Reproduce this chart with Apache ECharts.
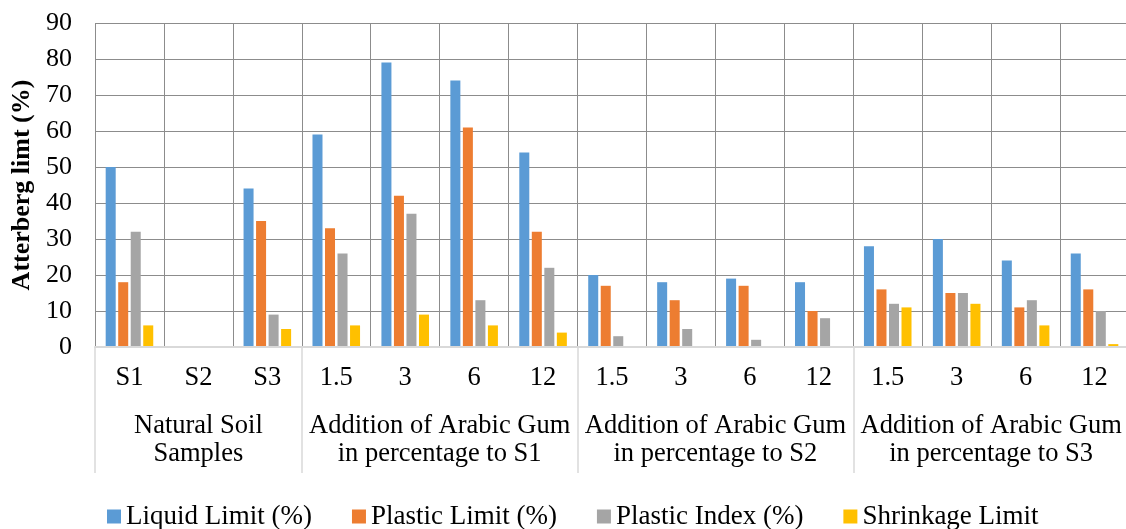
<!DOCTYPE html>
<html>
<head>
<meta charset="utf-8">
<script src="https://cdn.jsdelivr.net/npm/echarts@6/dist/echarts.min.js"></script>
<style>
  html, body { margin: 0; padding: 0; background: #fff; }
  #chart { width: 1126px; height: 529px; }
</style>
</head>
<body>
<div id="chart"></div>
<script>
// Sample labels (first axis level)
const categories = ['S1', 'S2', 'S3', '1.5', '3', '6', '12', '1.5', '3', '6', '12', '1.5', '3', '6', '12'];

// Group labels (second axis level) and where each group starts/ends, in category units
const groupLabels = ['Natural Soil\nSamples', 'Addition of Arabic Gum\nin percentage to S1',
                     'Addition of Arabic Gum\nin percentage to S2', 'Addition of Arabic Gum\nin percentage to S3'];
const groupCenters = [1.5, 5, 9, 13];
const groupBounds = [0, 3, 7, 11, 15];

// Atterberg limits (%)
const liquidLimit    = [50, null, 44, 59, 79, 74, 54, 20, 18, 19, 18, 28, 30, 24, 26];
const plasticLimit   = [18, null, 35, 33, 42, 61, 32, 17, 13, 17, 10, 16, 15, 11, 16];
const plasticIndex   = [32, null, 9, 26, 37, 13, 22, 3, 5, 2, 8, 12, 15, 13, 10];
const shrinkageLimit = [6, null, 5, 6, 9, 6, 4, null, null, null, null, 11, 12, 6, 0.8];

const yTicks = { min: 0, max: 90, interval: 10 };

const seriesNames = ['Liquid Limit (%)', 'Plastic Limit (%)', 'Plastic Index (%)', 'Shrinkage Limit'];
const seriesColors = ['#5B9BD5', '#ED7D31', '#A5A5A5', '#FFC000'];
const seriesData = [liquidLimit, plasticLimit, plasticIndex, shrinkageLimit];

const FONT = "'Liberation Serif', 'Times New Roman', serif";
const GRID = '#8c8c8c';
const LIGHT = '#d9d9d9';

const chart = echarts.init(document.getElementById('chart'), null, { renderer: 'canvas' });

chart.setOption({
  animation: false,
  textStyle: { fontFamily: FONT, color: '#000' },
  grid: { left: 95, right: -3, top: 23, bottom: 182, containLabel: false, outerBoundsMode: 'none' },
  legend: {
    left: 107,
    top: 503,
    padding: 0,
    icon: 'rect',
    itemWidth: 14,
    itemHeight: 14,
    itemGap: 40,
    textStyle: { fontFamily: FONT, fontSize: 27, color: '#000' },
    data: seriesNames
  },
  xAxis: [
    {
      type: 'category',
      data: categories,
      boundaryGap: true,
      axisLine: { show: true, lineStyle: { color: LIGHT, width: 2 } },
      axisTick: { show: false },
      axisLabel: { interval: 0, fontFamily: FONT, fontSize: 26.5, color: '#000', margin: 18 },
      splitLine: { show: true, interval: 0, lineStyle: { color: GRID, width: 1 } },
      z: 3
    },
    {
      type: 'value',
      position: 'bottom',
      min: 0,
      max: 15,
      axisLine: { show: false },
      splitLine: { show: false },
      axisTick: {
        show: true,
        customValues: groupBounds,
        length: 126,
        inside: false,
        lineStyle: { color: LIGHT, width: 1.5 }
      },
      axisLabel: {
        show: true,
        customValues: groupCenters,
        formatter: function (v) {
          const i = groupCenters.indexOf(v);
          return i >= 0 ? groupLabels[i] : '';
        },
        fontFamily: FONT,
        fontSize: 26.5,
        lineHeight: 28,
        color: '#000',
        margin: 65
      }
    }
  ],
  yAxis: {
    type: 'value',
    min: yTicks.min,
    max: yTicks.max,
    interval: yTicks.interval,
    name: 'Atterberg limt (%)',
    nameLocation: 'middle',
    nameGap: 58,
    nameTextStyle: { fontFamily: FONT, fontSize: 26, fontWeight: 'bold', color: '#000' },
    axisLine: { show: false },
    axisTick: { show: false },
    axisLabel: { fontFamily: FONT, fontSize: 26, color: '#000', margin: 23 },
    splitLine: { show: true, lineStyle: { color: GRID, width: 1 } }
  },
  series: seriesNames.map((name, i) => ({
    name: name,
    type: 'bar',
    xAxisIndex: 0,
    data: seriesData[i],
    barGap: '25%',
    barCategoryGap: '31%',
    itemStyle: { color: seriesColors[i] },
    z: 2
  }))
});
</script>
</body>
</html>
